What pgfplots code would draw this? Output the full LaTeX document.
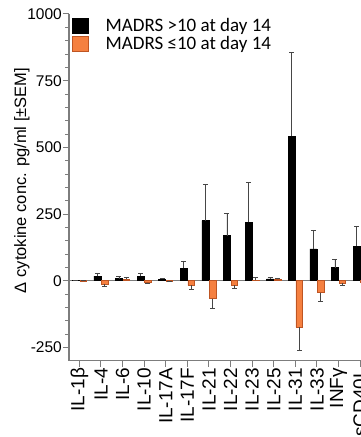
\documentclass[border=0pt]{standalone}
\usepackage{pgfplots}
\pgfplotsset{compat=1.18}
\usepackage{fontspec}
\setmainfont{Liberation Sans}
\newfontfamily\calibri{Carlito}
\definecolor{myorange}{RGB}{245,128,64}
\definecolor{myorangeedge}{RGB}{190,85,35}
\definecolor{axgray}{RGB}{125,125,125}
\definecolor{errgray}{RGB}{70,70,70}
\begin{document}
\begin{tikzpicture}
\begin{axis}[
  at={(0,0)}, anchor=south west,
  scale only axis, width=302pt, height=346.7pt,
  xmin=-0.48, xmax=13.5, ymin=-300, ymax=1000,
  separate axis lines,
  axis x line=bottom, axis y line=left,
  axis line style={-, axgray, line width=1.3pt},
  tick align=outside, major tick length=6pt, minor tick length=3.5pt,
  tick style={axgray, line width=1pt},
  xtick={0,...,13},
  xticklabels={IL-1β, IL-4, IL-6, IL-10, IL-17A, IL-17F, IL-21, IL-22, IL-23, IL-25, IL-31, IL-33, INFγ, sCD40L},
  xticklabel style={rotate=90, anchor=east, font=\fontsize{19}{19}\selectfont, inner sep=1pt},
  ytick={-250,0,250,500,750,1000}, minor y tick num=4,
  yticklabel style={font=\fontsize{15.5}{15.5}\selectfont, inner sep=1pt},
  /pgf/number format/assume math mode=true,
  /pgf/number format/1000 sep={},
  ylabel={Δ cytokine conc. pg/ml [±SEM]},
  ylabel style={at={(axis description cs:-0.156,0.52)}, anchor=center, font=\fontsize{16.5}{16.5}\selectfont},
  error bars/error bar style={line width=0.8pt, errgray},
  error bars/error mark options={rotate=90, mark size=2.5pt, line width=0.8pt, errgray},
  ybar, bar width=0.324, bar shift=0pt,
  legend style={at={(axis description cs:0.0,1.0)}, anchor=north west, draw=none, fill=none,
    font=\calibri\fontsize{19}{19}\selectfont, row sep=-0.5pt, column sep=15pt},
  legend cell align=left,
  legend image code/.code={\fill[#1] (0pt,-7.5pt) rectangle (16pt,7.5pt);},
]
\draw[axgray, line width=1.2pt] (axis cs:-0.48,0) -- (axis cs:13.5,0);
% MADRS >10 (bars centred 0.17 left of each category)
\addplot[fill=black, draw=black,
  error bars/.cd, y dir=plus, y explicit] coordinates {
  (-0.17,0.5) +- (0,0)
  (0.83,17.5) +- (0,11.5)
  (1.83,7.5) +- (0,7.5)
  (2.83,17.5) +- (0,9.5)
  (3.83,6) +- (0,4)
  (4.83,46) +- (0,28)
  (5.83,225) +- (0,137)
  (6.83,169) +- (0,84)
  (7.83,219) +- (0,148)
  (8.83,7) +- (0,5)
  (9.83,542) +- (0,314)
  (10.83,119) +- (0,71)
  (11.83,49) +- (0,29)
  (12.83,130) +- (0,72)
};
\addlegendentry{MADRS >10 at day 14}
% MADRS <=10 (negative values, bars centred 0.17 right of each category)
\addplot[bar width=0.3, fill=myorange, draw=myorangeedge, line width=0.4pt,
  error bars/.cd, y dir=minus, y explicit] coordinates {
  (0.17,-0.5) +- (0,0)
  (1.17,-12.5) +- (0,7.5)
  (3.17,-7.5) +- (0,3.5)
  (4.17,-2) +- (0,2)
  (5.17,-17.5) +- (0,13.5)
  (6.17,-67.5) +- (0,36.5)
  (7.17,-17.5) +- (0,10)
  (10.17,-175) +- (0,85)
  (11.17,-45) +- (0,31)
  (12.17,-10) +- (0,7.5)
  (13.17,-5) +- (0,3)
};
\addlegendentry{MADRS ≤10 at day 14}
% MADRS <=10 (positive values)
\addplot[forget plot, bar width=0.3, fill=myorange, draw=myorangeedge, line width=0.4pt,
  error bars/.cd, y dir=plus, y explicit] coordinates {
  (2.17,5) +- (0,7)
  (8.17,1) +- (0,10)
  (9.17,5) +- (0,5)
};
\end{axis}
\pgfresetboundingbox
\path[use as bounding box] (-69pt,-76.3pt) rectangle (292pt,360.7pt);
\end{tikzpicture}
\end{document}
